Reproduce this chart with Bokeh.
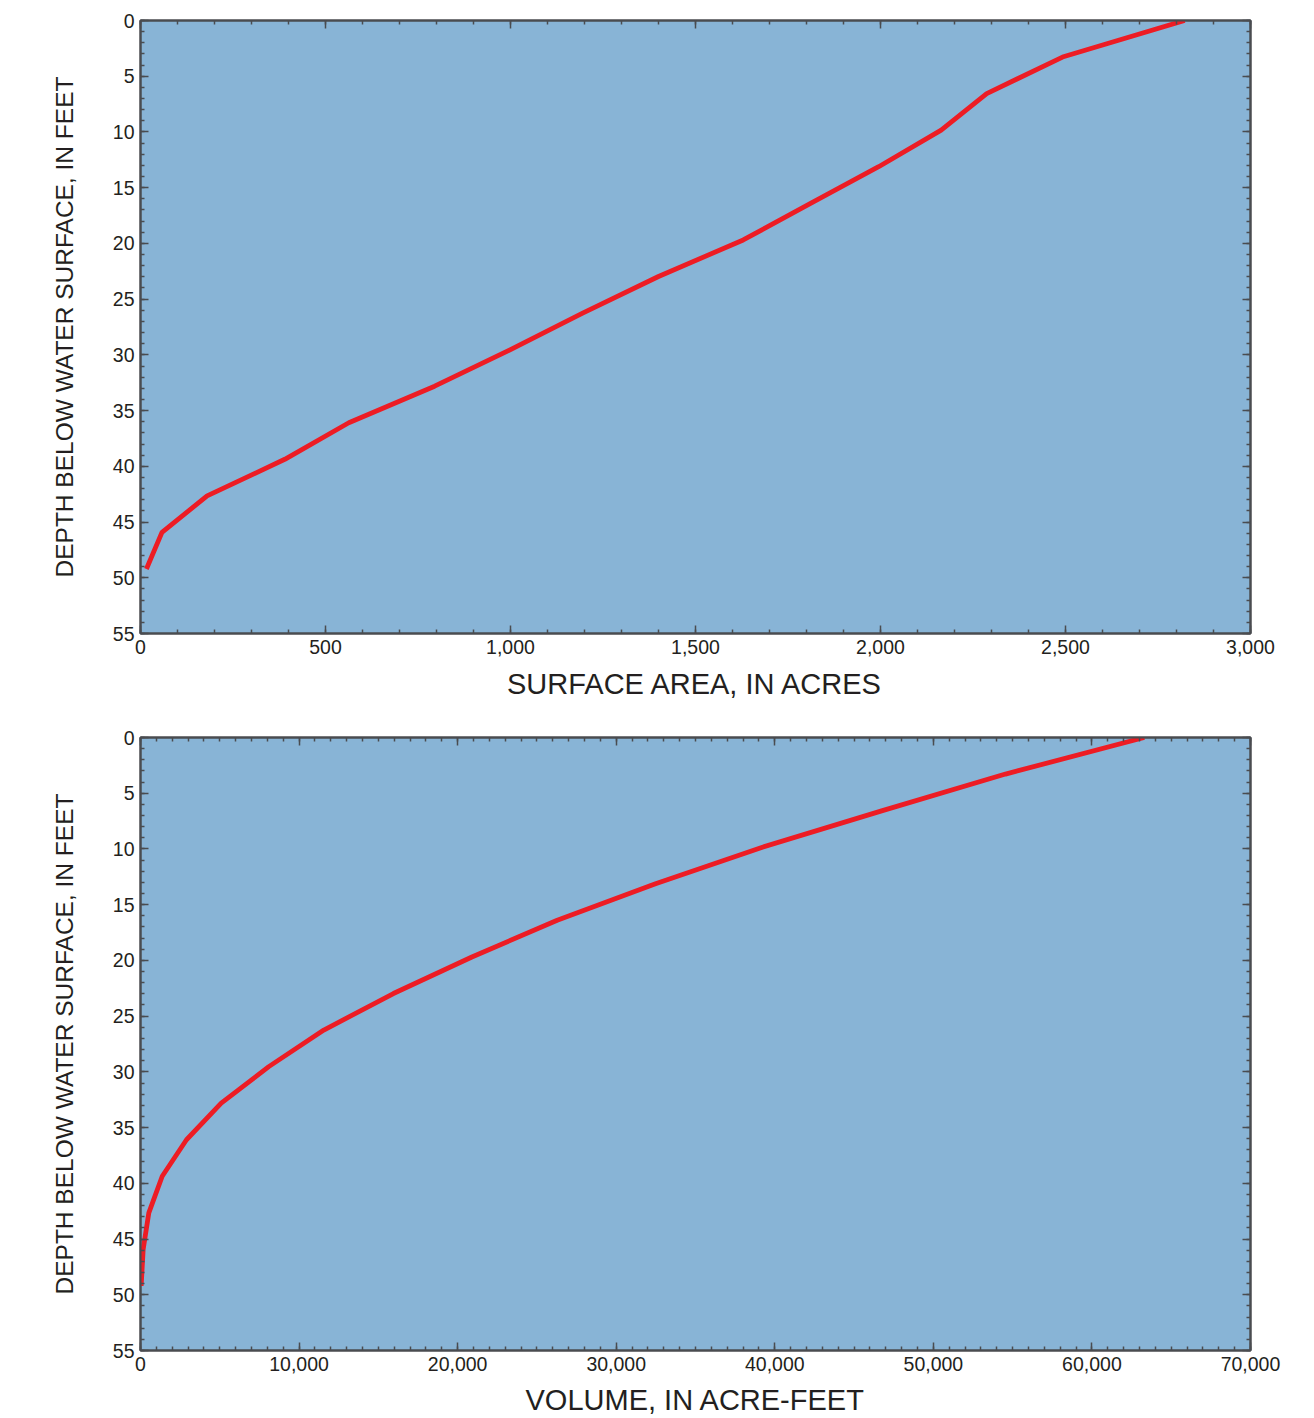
from bokeh.plotting import figure
from bokeh.models import (Range1d, LinearAxis, SingleIntervalTicker,
                          NumeralTickFormatter, CustomJSTickFormatter)
from bokeh.layouts import column
from bokeh.embed import file_html
from bokeh.resources import INLINE

# Depth below water surface (feet), 1-metre steps
depth_ft = [0, 3.28, 6.56, 9.84, 13.12, 16.40, 19.69, 22.97, 26.25,
            29.53, 32.81, 36.09, 39.37, 42.65, 45.93, 49.21]
# Surface area, acres
area_acres = [2822, 2492, 2287, 2164, 1995, 1811, 1629, 1400, 1195,
              1000, 795, 563, 390, 180, 58, 16]
# Volume, acre-feet
volume_acft = [63300, 54550, 46790, 39220, 32480, 26280, 20900, 15950, 11560,
               8090, 5090, 2900, 1370, 525, 168, 42]

FONT = "Liberation Sans"
BG = "#88b4d6"
LINE = "#ed1c24"
AXC = "#4a4c50"
TXT = "#231f20"


def style_axis(ax, labels=True):
    ax.axis_line_color = AXC
    ax.axis_line_width = 2
    ax.major_tick_line_color = AXC
    ax.minor_tick_line_color = AXC
    ax.major_tick_line_width = 1.5
    ax.minor_tick_line_width = 1.5
    ax.major_tick_in = 8
    ax.major_tick_out = 0
    ax.minor_tick_in = 4
    ax.minor_tick_out = 0
    ax.major_label_text_font = FONT
    ax.major_label_text_font_size = "19.5px"
    ax.major_label_text_color = TXT
    ax.axis_label_text_font = FONT
    ax.axis_label_text_font_style = "normal"
    ax.axis_label_text_color = TXT
    if not labels:
        ax.formatter = CustomJSTickFormatter(code="return ''")
        ax.major_label_standoff = 0


def make_panel(xvals, xmax, xint, xminor, xtitle, height, btop, bbot, xstand):
    p = figure(width=1300, height=height, output_backend="svg",
               toolbar_location=None,
               x_range=Range1d(0, xmax), y_range=Range1d(55, 0),
               min_border_left=140, min_border_right=50,
               min_border_top=btop, min_border_bottom=bbot,
               background_fill_color=BG, border_fill_color="white",
               outline_line_color=AXC, outline_line_width=2)
    p.xgrid.visible = False
    p.ygrid.visible = False

    xt = SingleIntervalTicker(interval=xint, num_minor_ticks=xminor)
    yt = SingleIntervalTicker(interval=5, num_minor_ticks=5)

    xa = p.xaxis[0]
    xa.ticker = xt
    xa.formatter = NumeralTickFormatter(format="0,0")
    style_axis(xa)
    xa.major_label_standoff = 6
    xa.axis_label = xtitle
    xa.axis_label_text_font_size = "29px"
    xa.axis_label_standoff = xstand

    ya = p.yaxis[0]
    ya.ticker = yt
    style_axis(ya)
    ya.major_label_standoff = 6
    ya.axis_label = "DEPTH BELOW WATER SURFACE, IN FEET"
    ya.axis_label_text_font_size = "24.5px"
    ya.axis_label_standoff = 32

    top = LinearAxis(ticker=SingleIntervalTicker(interval=xint, num_minor_ticks=xminor))
    style_axis(top, labels=False)
    p.add_layout(top, "above")
    right = LinearAxis(ticker=SingleIntervalTicker(interval=5, num_minor_ticks=5))
    style_axis(right, labels=False)
    p.add_layout(right, "right")

    p.line(xvals, depth_ft, line_color=LINE, line_width=4.8,
           line_join="round", line_cap="butt")
    return p


p1 = make_panel(area_acres, 3000, 500, 5, "SURFACE AREA, IN ACRES",
                712, 20, 79, 11)
p2 = make_panel(volume_acft, 70000, 10000, 10, "VOLUME, IN ACRE-FEET",
                706, 25, 68, 10)

layout = column(p1, p2, spacing=0)
open("out.html", "w").write(file_html(layout, INLINE))
